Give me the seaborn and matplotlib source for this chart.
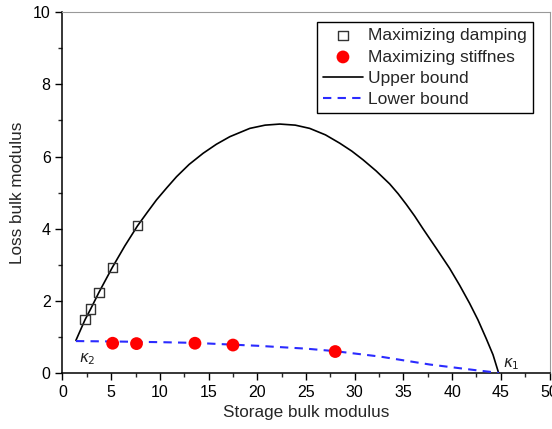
import matplotlib
matplotlib.use("Agg")
import matplotlib.pyplot as plt
from matplotlib.ticker import MultipleLocator
import pandas as pd
import seaborn as sns

# ---------------- data ----------------
upper_x = [1.38, 2.31, 2.89, 3.74, 5.11, 6.4, 7.71, 8.7, 9.66, 10.7, 11.71, 13.0, 14.44,
           15.8, 17.18, 19.23, 20.8, 22.31, 23.9, 25.38, 27.0, 28.46, 29.7, 30.85,
           32.2, 33.59, 34.45, 35.3, 36.15, 37.0, 38.38, 39.74, 40.77, 41.79, 42.65,
           43.5, 44.2, 44.77]
upper_y = [0.90, 1.47, 1.77, 2.23, 2.92, 3.52, 4.08, 4.45, 4.80, 5.13, 5.44, 5.78, 6.09,
           6.34, 6.55, 6.78, 6.87, 6.90, 6.87, 6.78, 6.60, 6.37, 6.15, 5.91,
           5.60, 5.24, 4.97, 4.67, 4.35, 4.0, 3.45, 2.9, 2.43, 1.93, 1.47,
           0.95, 0.5, 0.0]

lower_x = [1.38, 5.0, 10.0, 13.6, 17.5, 20.0, 25.0, 28.0, 32.6, 37.7, 42.8, 44.8]
lower_y = [0.88, 0.87, 0.85, 0.83, 0.78, 0.75, 0.67, 0.6, 0.45, 0.23, 0.06, 0.0]

damping_x = [2.31, 2.89, 3.74, 5.11, 7.71]
damping_y = [1.47, 1.77, 2.23, 2.92, 4.08]

stiffness_x = [5.15, 7.6, 13.6, 17.5, 28.0]
stiffness_y = [0.82, 0.81, 0.82, 0.77, 0.59]

upper = pd.DataFrame({"x": upper_x, "y": upper_y})
lower = pd.DataFrame({"x": lower_x, "y": lower_y})
damping = pd.DataFrame({"x": damping_x, "y": damping_y})
stiffness = pd.DataFrame({"x": stiffness_x, "y": stiffness_y})

# ---------------- plot ----------------
sns.set_theme(style="ticks")
plt.rcParams["font.family"] = ["Liberation Sans", "DejaVu Sans"]

fig = plt.figure(figsize=(5.52, 4.29), dpi=100)
ax = fig.add_axes([0.1132, 0.131, 0.8823, 0.8403])

sns.scatterplot(x="x", y="y", data=damping, ax=ax, marker="s", s=45,
                facecolor="none", edgecolor="#333333", linewidth=1.0,
                label="Maximizing damping", zorder=4)
sns.scatterplot(x="x", y="y", data=stiffness, ax=ax, marker="o", s=85,
                color="#ff0000", edgecolor="none", label="Maximizing stiffnes", zorder=4)
sns.lineplot(x="x", y="y", data=upper, ax=ax, sort=False, color="black",
             linewidth=1.2, label="Upper bound", zorder=3)
sns.lineplot(x="x", y="y", data=lower, ax=ax, sort=False, color="#2b2bff",
             linewidth=1.5, linestyle=(0, (4, 3)), label="Lower bound", zorder=3)

ax.text(1.7, 0.3, r"$\kappa_2$", fontsize=11, color="#222222")
ax.text(45.2, 0.15, r"$\kappa_1$", fontsize=11, color="#222222")

ax.set_xlim(0, 50)
ax.set_ylim(0, 10)
ax.xaxis.set_major_locator(MultipleLocator(5))
ax.xaxis.set_minor_locator(MultipleLocator(2.5))
ax.yaxis.set_major_locator(MultipleLocator(2))
ax.yaxis.set_minor_locator(MultipleLocator(1))
ax.tick_params(which="major", direction="out", length=5, width=1, labelsize=11.5, colors="black")
ax.tick_params(which="minor", direction="out", length=3, width=1)
for side in ["left", "bottom"]:
    ax.spines[side].set_color("black")
    ax.spines[side].set_linewidth(1.1)
for side in ["top", "right"]:
    ax.spines[side].set_visible(True)
    ax.spines[side].set_color("#999999")
    ax.spines[side].set_linewidth(0.8)

ax.set_xlabel("Storage bulk modulus", fontsize=12.3, labelpad=4)
ax.set_ylabel("Loss bulk modulus", fontsize=12.3, labelpad=6)

leg = ax.legend(loc="upper right", bbox_to_anchor=(0.966, 0.973), fontsize=12.5,
                frameon=True, fancybox=False, framealpha=1, edgecolor="black",
                handlelength=2.3, handletextpad=0.3, borderpad=0.35, labelspacing=0.35,
                borderaxespad=0)
leg.get_frame().set_linewidth(1.0)

fig.savefig("out.png", dpi=100)
